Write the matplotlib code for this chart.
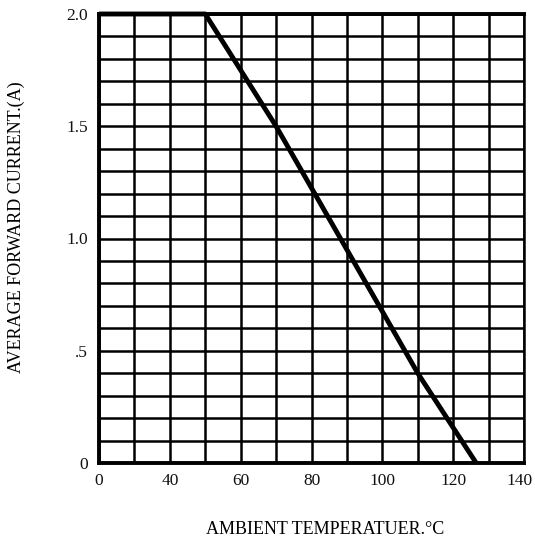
import numpy as np
import matplotlib.pyplot as plt
import matplotlib.transforms as mtransforms

# derating curve
temp = [0, 50, 70, 110, 126.5]
current = [2.0, 2.0, 1.5, 0.4, 0.0]

x_major = [0, 40, 60, 80, 100, 120, 140]
x_minor = [20, 50, 70, 90, 110, 130]
y_major = [0, 0.5, 1.0, 1.5, 2.0]
y_labels = ['0', '.5', '1.0', '1.5', '2.0']

# datasheet axis: first two columns are 20 C each, the rest 10 C each
seg_t = [0, 40, 140]
seg_c = [0, 2, 12]


def fwd(x):
    return np.interp(x, seg_t, seg_c)


def inv(c):
    return np.interp(c, seg_c, seg_t)


plt.rcParams['font.family'] = ['Liberation Serif', 'DejaVu Serif']

fig = plt.figure(figsize=(5.35, 5.41), dpi=100)
ax = fig.add_axes([99 / 535, 1 - 463 / 541, 425 / 535, 449 / 541])
ax.set_xscale('function', functions=(fwd, inv))

ax.plot(temp, current, color='black', lw=3.5, solid_capstyle='butt', clip_on=False, zorder=5)

ax.set_xlim(0, 140)
ax.set_ylim(0, 2.0)
ax.set_xticks(x_major)
ax.set_xticklabels([str(v) for v in x_major])
ax.set_xticks(x_minor, minor=True)
ax.set_yticks(y_major)
ax.set_yticklabels(y_labels)
ax.set_yticks(np.arange(0.1, 2.0, 0.1), minor=True)
ax.xaxis.set_minor_formatter(plt.NullFormatter())
ax.yaxis.set_minor_formatter(plt.NullFormatter())

ax.grid(True, which='both', color='black', lw=1.8)
ax.set_axisbelow(True)
ax.tick_params(which='both', length=0, labelsize=12.5, colors='#111111')
ax.tick_params(axis='x', pad=7)
ax.tick_params(axis='y', pad=8)

# keep the last label inside the figure
last = ax.get_xticklabels()[-1]
last.set_transform(last.get_transform() + mtransforms.ScaledTranslation(-4 / 100, 0, fig.dpi_scale_trans))

for side in ['left', 'bottom', 'top']:
    ax.spines[side].set_linewidth(2.8)
ax.spines['right'].set_linewidth(1.8)

fig.text(325 / 535, 1 - 530 / 541, 'AMBIENT TEMPERATUER.°C', ha='center', va='center', fontsize=13)
fig.text(16 / 535, 1 - 227 / 541, 'AVERAGE FORWARD CURRENT.(A)', ha='center', va='center',
         rotation=90, fontsize=13)

fig.savefig('out.png', dpi=100)
